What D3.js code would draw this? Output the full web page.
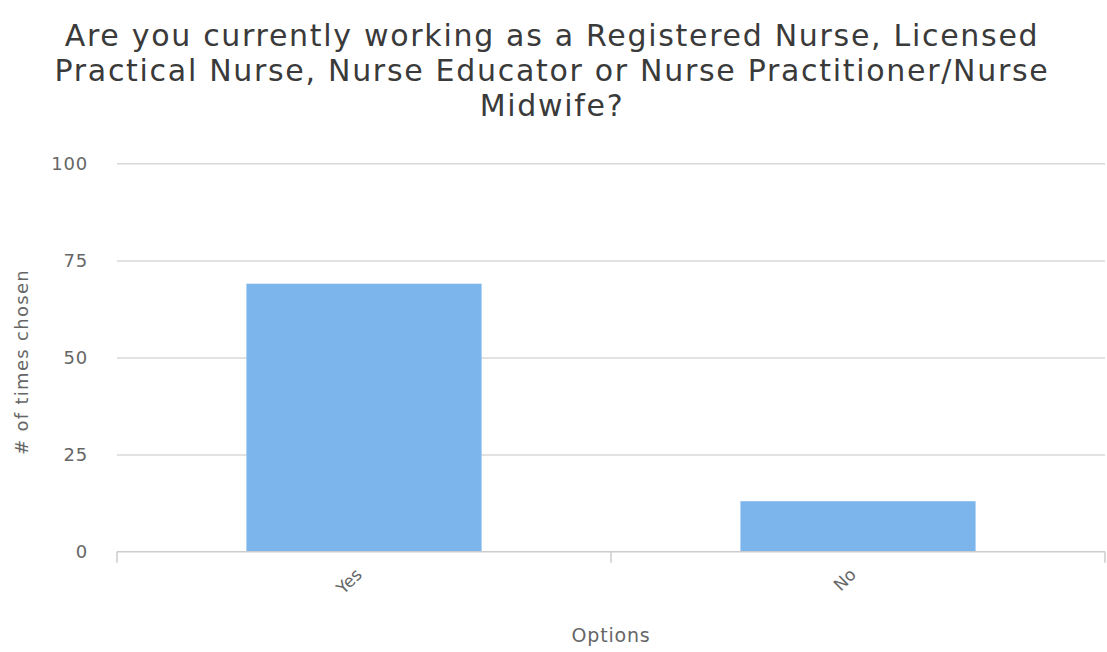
<!DOCTYPE html>
<html><head><meta charset="utf-8">
<script src="https://cdn.jsdelivr.net/npm/d3@7"></script>
<style>body{margin:0;background:#fff}svg{display:block}</style>
</head><body>
<script>
const titleLines = ["Are you currently working as a Registered Nurse, Licensed","Practical Nurse, Nurse Educator or Nurse Practitioner/Nurse","Midwife?"];
const categories = ["Yes","No"];
const values = [69, 13];
const yTicks = [0,25,50,75,100];
const yTitle = "# of times chosen";
const xTitle = "Options";

const W=1107,H=652;
const m={l:117,r:2,t:163.3,b:100.3};
const svg=d3.select("body").append("svg").attr("width",W).attr("height",H);
const font="'DejaVu Sans', Verdana, sans-serif";
const x=d3.scaleBand().domain(categories).range([m.l,W-m.r]).padding(0);
const y=d3.scaleLinear().domain([0,100]).range([H-m.b,m.t]);

// title
svg.append("g").selectAll("text").data(titleLines).join("text")
 .attr("x",552).attr("y",(d,i)=>46+i*35).attr("text-anchor","middle")
 .attr("font-family",font).attr("font-size",30).attr("letter-spacing",1.7)
 .attr("fill","#3a3a3a").text(d=>d);

// grid
const yAxis=svg.append("g").attr("transform",`translate(${m.l},0)`)
 .call(d3.axisLeft(y).tickValues(yTicks).tickSize(-(W-m.l-m.r)).tickPadding(29));
yAxis.select(".domain").remove();
yAxis.selectAll(".tick line").attr("stroke","#d8d8d8").attr("stroke-width",1.5);
yAxis.selectAll(".tick text").attr("font-family",font).attr("font-size",18).attr("letter-spacing",0.8).attr("fill","#666");
yAxis.selectAll(".tick").filter(d=>d===0).select("line").remove();

// bars
const bw=x.bandwidth();
svg.append("g").selectAll("rect").data(values).join("rect")
 .attr("x",(d,i)=>x(categories[i])+bw*0.262).attr("width",bw*0.476)
 .attr("y",d=>y(d)).attr("height",d=>y(0)-y(d)).attr("fill","#7cb5ec");

// x axis
const xg=svg.append("g").attr("transform",`translate(0,${y(0)})`);
xg.append("line").attr("x1",m.l).attr("x2",W-m.r).attr("stroke","#ccc").attr("stroke-width",1.5);
const edges=[...categories.map(c=>x(c)), x(categories[categories.length-1])+bw];
xg.selectAll("line.t").data(edges).join("line").attr("class","t")
 .attr("x1",d=>d).attr("x2",d=>d).attr("y1",0).attr("y2",11).attr("stroke","#ccc").attr("stroke-width",1.5);
xg.selectAll("text.lab").data(categories).join("text").attr("class","lab")
 .attr("transform",d=>`translate(${x(d)+bw/2-1},${24}) rotate(-45)`)
 .attr("text-anchor","end").attr("font-family",font).attr("font-size",17).attr("fill","#666").text(d=>d);

// axis titles
svg.append("text").attr("x",611).attr("y",642).attr("text-anchor","middle")
 .attr("font-family",font).attr("font-size",19).attr("letter-spacing",0.8).attr("fill","#666").text(xTitle);
svg.append("text").attr("transform",`translate(28,${362}) rotate(-90)`).attr("text-anchor","middle")
 .attr("font-family",font).attr("font-size",18).attr("letter-spacing",1.3).attr("fill","#666").text(yTitle);
</script>
</body></html>
